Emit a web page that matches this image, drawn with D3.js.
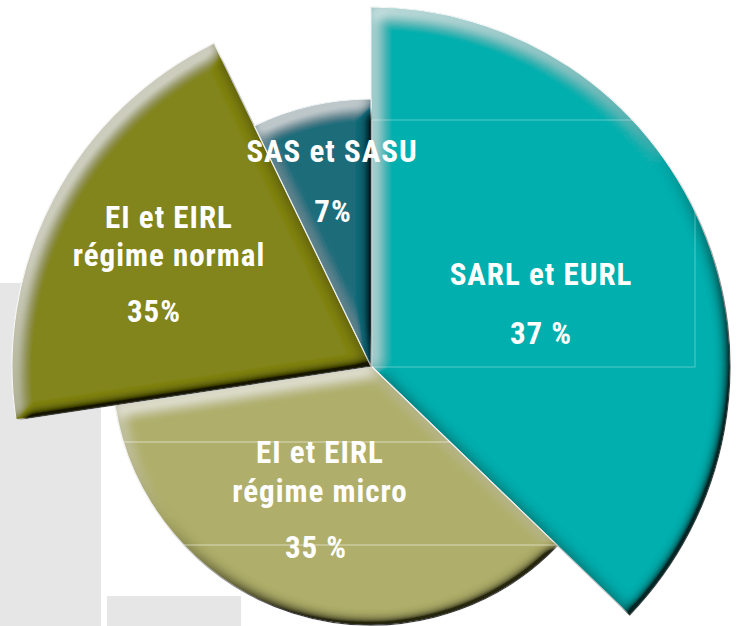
<!DOCTYPE html>
<html>
<head>
<meta charset="utf-8">
<script src="https://cdn.jsdelivr.net/npm/d3@7"></script>
<style>
  body { margin: 0; background: #fff; }
  svg { display: block; }
  .slice-label {
    font-family: "Liberation Sans Narrow", "Roboto Condensed", "DejaVu Sans Condensed", sans-serif;
    font-weight: bold;
    font-size: 31px;
    fill: #fff;
    text-anchor: middle;
    letter-spacing: 1px;
  }
</style>
</head>
<body>
<div id="wrapper"></div>
<script>
// 1. Data (clockwise from 12 o'clock)
const categories = ["SARL et EURL", "EI et EIRL régime micro", "EI et EIRL régime normal", "SAS et SASU"];
const shares = [37.2, 35.4, 20.2, 7.2];
const nameLines = [
  ["SARL et EURL"],
  ["EI et EIRL", "régime micro"],
  ["EI et EIRL", "régime normal"],
  ["SAS et SASU"]
];
const percentLabels = ["37 %", "35 %", "35%", "7%"];

function drawPie() {
  // 2. Dimensions
  let dimensions = {
    width: 742,
    height: 626,
    cx: 371,
    cy: 366,
    radii: [359, 259, 359, 267]
  };
  const colors = ["#03afae", "#afae6b", "#82841a", "#1b6c7a"];

  // label anchors (first baseline, relative to centre) and line offsets
  const labelLayout = [
    { x: 170, y: -81, lineStep: 38, pctDy: 59, pctDx: 0 },
    { x: -51, y: 97, lineStep: 39, pctDy: 95, pctDx: -4 },
    { x: -202, y: -138, lineStep: 38, pctDy: 94, pctDx: -15 },
    { x: -39, y: -204, lineStep: 38, pctDy: 60, pctDx: 1 }
  ];

  // 3. Canvas
  const wrapper = d3.select("#wrapper")
    .append("svg")
    .attr("width", dimensions.width)
    .attr("height", dimensions.height);

  // background grey panels
  wrapper.append("rect")
    .attr("x", 0).attr("y", 283).attr("width", 101).attr("height", 343)
    .attr("fill", "#e6e6e6");
  wrapper.append("rect")
    .attr("x", 107).attr("y", 596).attr("width", 134).attr("height", 30)
    .attr("fill", "#e6e6e6");

  const defs = wrapper.append("defs");

  // bevel filter: light on edges facing top-left, dark on edges facing bottom-right
  const bevel = defs.append("filter")
    .attr("id", "bevel")
    .attr("x", "-10%").attr("y", "-10%")
    .attr("width", "120%").attr("height", "120%");
  bevel.append("feGaussianBlur")
    .attr("in", "SourceAlpha").attr("stdDeviation", 7).attr("result", "blur");
  bevel.append("feOffset")
    .attr("in", "blur").attr("dx", 5).attr("dy", 7).attr("result", "off");
  // light side
  bevel.append("feComposite")
    .attr("in", "blur").attr("in2", "off")
    .attr("operator", "arithmetic")
    .attr("k1", 0).attr("k2", 2.5).attr("k3", -2.5).attr("k4", 0)
    .attr("result", "lightRaw");
  bevel.append("feComposite")
    .attr("in", "lightRaw").attr("in2", "SourceAlpha")
    .attr("operator", "in").attr("result", "lightMask");
  bevel.append("feFlood")
    .attr("flood-color", "#fff").attr("flood-opacity", 0.5).attr("result", "lightColor");
  bevel.append("feComposite")
    .attr("in", "lightColor").attr("in2", "lightMask")
    .attr("operator", "in").attr("result", "light");
  // dark side
  bevel.append("feComposite")
    .attr("in", "off").attr("in2", "blur")
    .attr("operator", "arithmetic")
    .attr("k1", 0).attr("k2", 4).attr("k3", -4).attr("k4", 0)
    .attr("result", "darkRaw");
  bevel.append("feComposite")
    .attr("in", "darkRaw").attr("in2", "SourceAlpha")
    .attr("operator", "in").attr("result", "darkMask");
  bevel.append("feFlood")
    .attr("flood-color", "#000").attr("flood-opacity", 0.95).attr("result", "darkColor");
  bevel.append("feComposite")
    .attr("in", "darkColor").attr("in2", "darkMask")
    .attr("operator", "in").attr("result", "dark");
  // soft dark rim all round
  bevel.append("feComposite")
    .attr("in", "SourceAlpha").attr("in2", "blur")
    .attr("operator", "out").attr("result", "rimMask");
  bevel.append("feFlood")
    .attr("flood-color", "#000").attr("flood-opacity", 0.3).attr("result", "rimColor");
  bevel.append("feComposite")
    .attr("in", "rimColor").attr("in2", "rimMask")
    .attr("operator", "in").attr("result", "rim");
  const merge = bevel.append("feMerge");
  merge.append("feMergeNode").attr("in", "SourceGraphic");
  merge.append("feMergeNode").attr("in", "rim");
  merge.append("feMergeNode").attr("in", "dark");
  merge.append("feMergeNode").attr("in", "light");

  const bounds = wrapper.append("g")
    .attr("transform", `translate(${dimensions.cx}, ${dimensions.cy})`);

  // 4. Pie layout
  const pieGenerator = d3.pie()
    .sort(null)
    .value(d => d)
    .startAngle(0)
    .endAngle(2 * Math.PI);
  const arcs = pieGenerator(shares);

  const arcGenerator = d3.arc()
    .innerRadius(0)
    .outerRadius(d => dimensions.radii[d.index]);

  // clip paths for the faint guide lines
  defs.selectAll(".slice-clip")
    .data(arcs)
    .join("clipPath")
    .attr("class", "slice-clip")
    .attr("id", (d, i) => `clip-${i}`)
    .append("path")
    .attr("transform", `translate(${dimensions.cx}, ${dimensions.cy})`)
    .attr("d", arcGenerator);

  // 5. Slices
  bounds.selectAll(".slice")
    .data(arcs)
    .join("path")
    .attr("class", "slice")
    .attr("d", arcGenerator)
    .attr("fill", (d, i) => colors[i])
    .attr("stroke", "#fff")
    .attr("stroke-width", 1.2)
    .attr("filter", "url(#bevel)");

  // faint frame lines visible through the slices
  const guides = wrapper.append("g");
  const tealGuides = guides.append("g").attr("clip-path", "url(#clip-0)");
  tealGuides.append("rect")
    .attr("x", dimensions.cx + 1).attr("y", 120)
    .attr("width", 323).attr("height", 247)
    .attr("fill", "none")
    .attr("stroke", "#ffffff").attr("stroke-opacity", 0.35).attr("stroke-width", 1);
  const microGuides = guides.append("g").attr("clip-path", "url(#clip-1)");
  microGuides.selectAll("line")
    .data([442, 545])
    .join("line")
    .attr("x1", 0).attr("x2", dimensions.width)
    .attr("y1", d => d).attr("y2", d => d)
    .attr("stroke", "#ffffff").attr("stroke-opacity", 0.55).attr("stroke-width", 1);

  // 6. Labels
  const labels = bounds.selectAll(".label-group")
    .data(arcs)
    .join("g")
    .attr("class", "label-group")
    .attr("transform", (d, i) => `translate(${labelLayout[i].x}, ${labelLayout[i].y})`);

  labels.each(function (d, i) {
    const g = d3.select(this);
    const layout = labelLayout[i];
    nameLines[i].forEach((line, j) => {
      g.append("text")
        .attr("class", "slice-label")
        .attr("y", j * layout.lineStep)
        .text(line);
    });
    g.append("text")
      .attr("class", "slice-label")
      .attr("x", layout.pctDx)
      .attr("y", layout.pctDy)
      .text(percentLabels[i]);
  });
}
drawPie();
</script>
</body>
</html>
